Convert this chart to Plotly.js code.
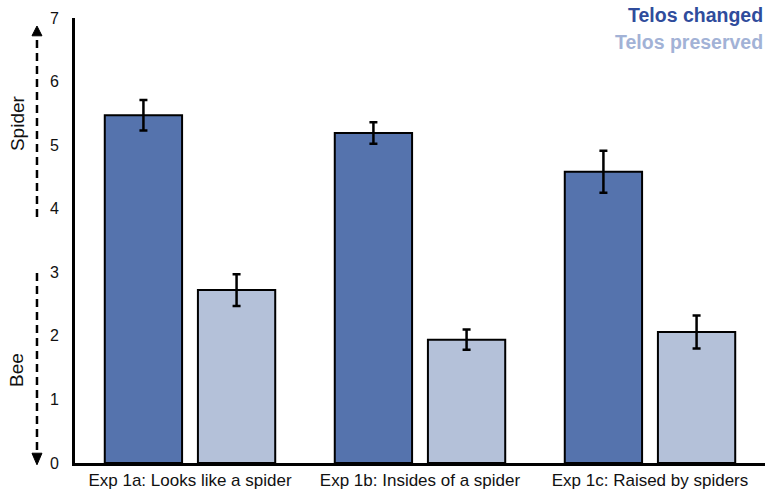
<!DOCTYPE html>
<html>
<head>
<meta charset="utf-8">
<script src="https://cdn.plot.ly/plotly-3.0.1.min.js"></script>
<style>
  html, body { margin: 0; padding: 0; background: #fff; }
  #chart { width: 769px; height: 497px; }
</style>
</head>
<body>
<div id="chart"></div>
<script>
// Experiment conditions along the x axis
const categories = [
  'Exp 1a: Looks like a spider',
  'Exp 1b: Insides of a spider',
  'Exp 1c: Raised by spiders'
];

// Mean ratings (1 = bee ... 7 = spider) with standard errors
const seriesNames = ['Telos changed', 'Telos preserved'];
const changedMeans = [5.47, 5.19, 4.58];
const changedErrors = [0.24, 0.17, 0.33];
const preservedMeans = [2.72, 1.94, 2.06];
const preservedErrors = [0.25, 0.16, 0.26];

const yTickValues = [0, 1, 2, 3, 4, 5, 6, 7];

const darkBlue = '#5573ad';
const lightBlue = '#b4c1d9';
const fontFamily = 'Liberation Sans, Arial, sans-serif';

function barTrace(name, values, errors, color) {
  return {
    type: 'bar',
    name: name,
    x: categories,
    y: values,
    marker: { color: color, line: { color: '#000', width: 2 } },
    error_y: {
      type: 'data',
      array: errors,
      visible: true,
      color: '#000',
      thickness: 2.5,
      width: 4
    },
    hoverinfo: 'x+y'
  };
}

const data = [
  barTrace(seriesNames[0], changedMeans, changedErrors, darkBlue),
  barTrace(seriesNames[1], preservedMeans, preservedErrors, lightBlue)
];

// Dashed direction arrows beside the y axis (paper coordinates)
const arrowX = -0.0551;
const headHalf = 0.0072;
function dashedLine(y0, y1) {
  return {
    type: 'line', xref: 'paper', yref: 'paper',
    x0: arrowX, x1: arrowX, y0: y0, y1: y1,
    line: { color: '#000', width: 2.5, dash: '8px,5px' }
  };
}
function arrowHead(base, tip) {
  return {
    type: 'path', xref: 'paper', yref: 'paper',
    path: 'M ' + (arrowX - headHalf) + ' ' + base +
          ' L ' + (arrowX + headHalf) + ' ' + base +
          ' L ' + arrowX + ' ' + tip + ' Z',
    fillcolor: '#000',
    line: { color: '#000', width: 1 }
  };
}

const shapes = [
  dashedLine(0.553, 0.962),
  arrowHead(0.960, 0.982),
  dashedLine(0.427, 0.020),
  arrowHead(0.022, -0.004)
];

const annotations = [
  {
    text: 'Spider', xref: 'paper', yref: 'paper', x: -0.084, y: 0.764,
    textangle: -90, showarrow: false, xanchor: 'center', yanchor: 'middle',
    font: { family: fontFamily, size: 19, color: '#111' }
  },
  {
    text: 'Bee', xref: 'paper', yref: 'paper', x: -0.084, y: 0.209,
    textangle: -90, showarrow: false, xanchor: 'center', yanchor: 'middle',
    font: { family: fontFamily, size: 19, color: '#111' }
  },
  {
    text: '<b>' + seriesNames[0] + '</b>', xref: 'paper', yref: 'paper',
    x: 1.0, y: 1.0067, xanchor: 'right', yanchor: 'middle', showarrow: false,
    font: { family: fontFamily, size: 19.5, color: '#2f4c9c' }
  },
  {
    text: '<b>' + seriesNames[1] + '</b>', xref: 'paper', yref: 'paper',
    x: 1.0, y: 0.946, xanchor: 'right', yanchor: 'middle', showarrow: false,
    font: { family: fontFamily, size: 19.5, color: '#a2b2d6' }
  }
];

const layout = {
  width: 769,
  height: 497,
  margin: { l: 75, r: 4, t: 18, b: 34 },
  paper_bgcolor: '#fff',
  plot_bgcolor: '#fff',
  showlegend: false,
  barmode: 'group',
  bargap: 0.19,
  bargroupgap: 0.17,
  font: { family: fontFamily, color: '#111' },
  xaxis: {
    type: 'category',
    showline: true,
    linecolor: '#000',
    linewidth: 3,
    ticks: '',
    showgrid: false,
    zeroline: false,
    tickfont: { family: fontFamily, size: 17, color: '#111' }
  },
  yaxis: {
    range: [0, 7],
    tickvals: yTickValues,
    showline: true,
    linecolor: '#000',
    linewidth: 3,
    ticks: '',
    ticklabelstandoff: 10,
    showgrid: false,
    zeroline: false,
    tickfont: { family: fontFamily, size: 16, color: '#111' }
  },
  shapes: shapes,
  annotations: annotations
};

Plotly.newPlot('chart', data, layout, { displayModeBar: false, staticPlot: true });
</script>
</body>
</html>
